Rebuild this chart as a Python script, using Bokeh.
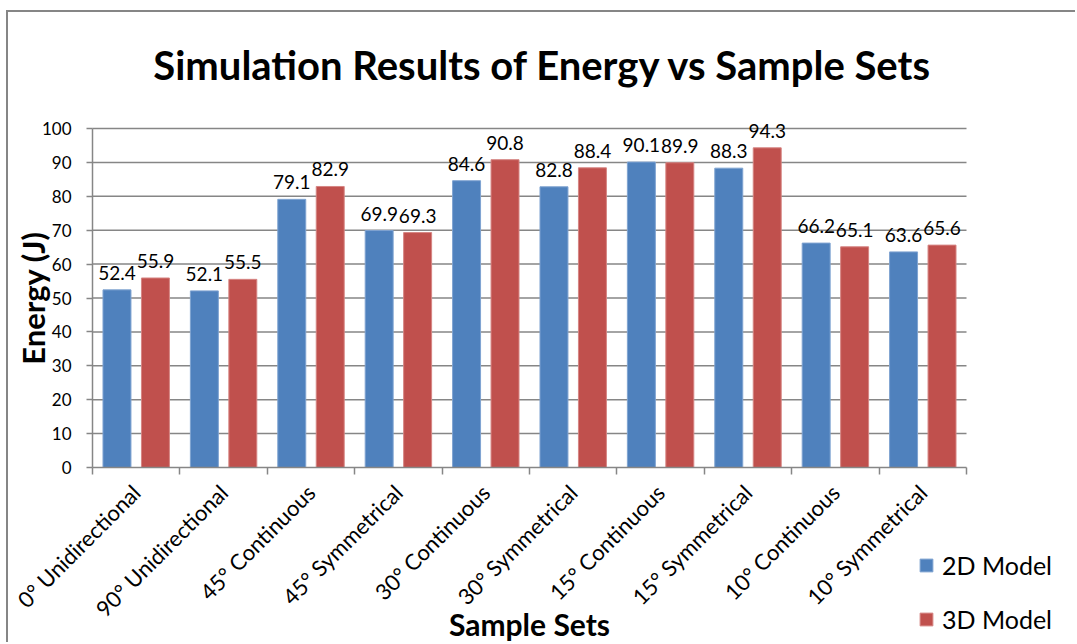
import math
from bokeh.plotting import figure
from bokeh.models import (ColumnDataSource, Range1d, FixedTicker, Legend, LegendItem, Title,
                          LinearAxis)
from bokeh.core.properties import value
from bokeh.embed import file_html
from bokeh.resources import INLINE

categories = ["0° Unidirectional", "90° Unidirectional", "45° Continuous", "45° Symmetrical",
              "30° Continuous", "30° Symmetrical", "15° Continuous", "15° Symmetrical",
              "10° Continuous", "10° Symmetrical"]
model_2d = [52.4, 52.1, 79.1, 69.9, 84.6, 82.8, 90.1, 88.3, 66.2, 63.6]
model_3d = [55.9, 55.5, 82.9, 69.3, 90.8, 88.4, 89.9, 94.3, 65.1, 65.6]
series_names = ["2D Model", "3D Model"]
y_ticks = list(range(0, 101, 10))

BLUE = "#4F81BD"
RED = "#C0504D"
GRAY = "#868686"
FONT = "Lato"

# layout (page pixels)
FIG_X0, FIG_Y0 = 8, 12           # figure origin inside the border
FIG_W, FIG_H = 1069, 632
TOP = 100                        # title panel height
PX_X0, PX_X1 = 92, 966           # plot area left/right
PX_Y0, PX_Y1 = 467, 128          # value 0 / value 100

n = len(categories)
ymax = y_ticks[-1]
ux = (PX_X1 - PX_X0) / n
uy = (PX_Y0 - PX_Y1) / ymax
frame_left, frame_right = FIG_X0, FIG_X0 + FIG_W
frame_top, frame_bottom = FIG_Y0 + TOP, FIG_Y0 + FIG_H
x_start = -(PX_X0 - frame_left) / ux
x_end = n + (frame_right - PX_X1) / ux
y_start = -(frame_bottom - PX_Y0) / uy
y_end = ymax + (PX_Y1 - frame_top) / uy

centers = [i + 0.5 for i in range(n)]
off = 0.22
bw = 0.32

src2 = ColumnDataSource(dict(x=[c - off for c in centers], top=model_2d,
                             lab=[f"{v:.1f}" for v in model_2d]))
src3 = ColumnDataSource(dict(x=[c + off for c in centers], top=model_3d,
                             lab=[f"{v:.1f}" for v in model_3d]))
grid_src = ColumnDataSource(dict(y=y_ticks[1:], x0=[0] * (len(y_ticks) - 1),
                                 x1=[n] * (len(y_ticks) - 1)))

p = figure(width=FIG_W, height=FIG_H, output_backend="svg", toolbar_location=None,
           x_range=Range1d(x_start, x_end), y_range=Range1d(y_start, y_end),
           x_axis_location=None, y_axis_location=None,
           min_border_left=0, min_border_top=TOP, min_border_right=0, min_border_bottom=0,
           margin=(10, 0, 0, 6))
p.styles = {"border-top": f"2px solid {GRAY}", "border-left": f"2px solid {GRAY}"}
p.outline_line_color = None
p.background_fill_color = "white"
p.border_fill_color = "white"
p.xgrid.grid_line_color = None
p.ygrid.grid_line_color = None

t = Title(text="Simulation Results of Energy vs Sample Sets", align="center",
          text_font=FONT, text_font_size="40px", text_font_style="bold", text_color="black",
          standoff=47)
p.add_layout(t, "above")

# gridlines limited to the plot area
p.segment(x0="x0", x1="x1", y0="y", y1="y", source=grid_src, line_color=GRAY, line_width=1.5)

r2 = p.vbar(x="x", top="top", width=bw, source=src2, fill_color=BLUE, line_color="#7FA3D1", line_width=1)
r3 = p.vbar(x="x", top="top", width=bw, source=src3, fill_color=RED, line_color="#D68583", line_width=1)

for s in (src2, src3):
    p.text(x="x", y="top", text="lab", source=s, text_align="center", text_baseline="alphabetic",
           y_offset=-17, text_font=value(FONT), text_font_size="19px", text_color="black")

# y axis
ya = LinearAxis(fixed_location=0, bounds=(0, ymax), ticker=FixedTicker(ticks=y_ticks))
ya.axis_line_color = GRAY
ya.axis_line_width = 1.5
ya.major_tick_line_color = GRAY
ya.major_tick_line_width = 1.5
ya.major_tick_out = 6
ya.major_tick_in = 0
ya.minor_tick_line_color = None
ya.major_label_text_font = FONT
ya.major_label_text_font_size = "17px"
ya.major_label_text_color = "black"
ya.major_label_standoff = 15
ya.axis_label = "Energy (J)"
ya.axis_label_text_font = FONT
ya.axis_label_text_font_size = "31px"
ya.axis_label_text_font_style = "bold"
ya.axis_label_text_color = "black"
ya.axis_label_standoff = -13
p.add_layout(ya, "left")

# x axis
xa = LinearAxis(fixed_location=0, bounds=(0, n),
                ticker=FixedTicker(ticks=centers, minor_ticks=list(range(n + 1))))
xa.major_label_overrides = {c: lab for c, lab in zip(centers, categories)}
xa.major_label_orientation = math.pi / 4
xa.axis_line_color = GRAY
xa.axis_line_width = 1.5
xa.major_tick_line_color = None
xa.minor_tick_line_color = GRAY
xa.minor_tick_line_width = 1.5
xa.minor_tick_out = 7
xa.minor_tick_in = 0
xa.major_label_text_font = FONT
xa.major_label_text_font_size = "22px"
xa.major_label_text_color = "black"
xa.major_label_standoff = 14
xa.axis_label = "Sample Sets"
xa.axis_label_text_font = FONT
xa.axis_label_text_font_size = "30px"
xa.axis_label_text_font_style = "bold"
xa.axis_label_text_color = "black"
xa.axis_label_standoff = -29
p.add_layout(xa, "below")

legend = Legend(items=[LegendItem(label=series_names[0], renderers=[r2]),
                       LegendItem(label=series_names[1], renderers=[r3])],
                location=(918 - frame_left, frame_bottom - 634), orientation="vertical",
                glyph_width=16, glyph_height=16, label_text_font=FONT,
                label_text_font_size="25px", label_text_color="black",
                spacing=24, padding=0, margin=0, border_line_color=None,
                background_fill_alpha=0, label_standoff=8)
p.add_layout(legend, "center")

open("out.html", "w").write(file_html(p, INLINE))
